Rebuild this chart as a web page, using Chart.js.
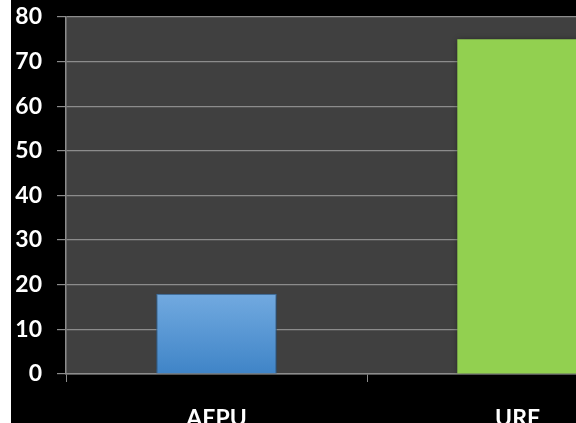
<!DOCTYPE html>
<html>
<head>
<meta charset="utf-8">
<script src="https://cdn.jsdelivr.net/npm/chart.js@4"></script>
<style>
  html, body { margin: 0; padding: 0; background: #ffffff; overflow: hidden; width: 576px; height: 423px; }
  #wrap { position: absolute; left: 11px; top: -12px; width: 680px; height: 462px; background: #000000; }
  canvas { display: block; }
</style>
</head>
<body>
<div id="wrap"><canvas id="c" width="680" height="462"></canvas></div>
<script>
const categories = ["AEPU", "URF"];
const values = [18, 75];
const yTicks = [0, 10, 20, 30, 40, 50, 60, 70, 80];

const plotBg = {
  id: 'plotBg',
  beforeDraw(chart) {
    const { ctx, chartArea: a } = chart;
    ctx.save();
    ctx.fillStyle = '#404040';
    ctx.fillRect(a.left, a.top, a.right - a.left, a.bottom - a.top);
    ctx.restore();
  }
};

const barShadow = {
  id: 'barShadow',
  beforeDatasetsDraw(chart) {
    const ctx = chart.ctx;
    ctx.save();
    ctx.shadowColor = 'rgba(0,0,0,0.45)';
    ctx.shadowBlur = 6;
    ctx.shadowOffsetX = 1;
    ctx.shadowOffsetY = 1;
  },
  afterDatasetsDraw(chart) {
    chart.ctx.restore();
  }
};

function barFill(context) {
  const chart = context.chart;
  const i = context.dataIndex;
  if (i === 1) return '#92d050';
  const a = chart.chartArea;
  if (!a) return '#5b9bd5';
  const y = chart.scales.y;
  const top = y.getPixelForValue(values[i]);
  const bottom = y.getPixelForValue(0);
  const g = chart.ctx.createLinearGradient(0, top, 0, bottom);
  g.addColorStop(0, '#72aae0');
  g.addColorStop(1, '#3f84c7');
  return g;
}

new Chart(document.getElementById('c'), {
  type: 'bar',
  data: {
    labels: categories,
    datasets: [{
      data: values,
      backgroundColor: barFill,
      borderColor: ['#3a78b5', '#92d050'],
      borderWidth: [1, 0],
      categoryPercentage: 1.0,
      barPercentage: 0.4
    }]
  },
  options: {
    responsive: false,
    animation: false,
    devicePixelRatio: 1,
    layout: { padding: { top: 5, right: 23, left: 0, bottom: 0 } },
    plugins: { legend: { display: false }, tooltip: { enabled: false } },
    scales: {
      x: {
        grid: { display: true, drawOnChartArea: false, drawTicks: true, tickLength: 8, color: '#8c8c8c', offset: true },
        border: { display: true, color: '#8c8c8c', width: 1.5 },
        ticks: { color: '#ffffff', font: { family: 'Lato', size: 23, weight: 'bold' }, padding: 23 },
        afterFit(scale) { scale.height = 76; }
      },
      y: {
        min: 0, max: 80,
        afterBuildTicks(scale) { scale.ticks = yTicks.map(v => ({ value: v })); },
        grid: { color: '#8c8c8c', lineWidth: 1.2, tickLength: 9, drawTicks: true },
        border: { display: true, color: '#8c8c8c', width: 1.5 },
        ticks: { color: '#ffffff', font: { family: 'Lato', size: 23, weight: 'bold' }, padding: 15 },
        afterFit(scale) { scale.width = 55; }
      }
    }
  },
  plugins: [plotBg, barShadow]
});
</script>
</body>
</html>
